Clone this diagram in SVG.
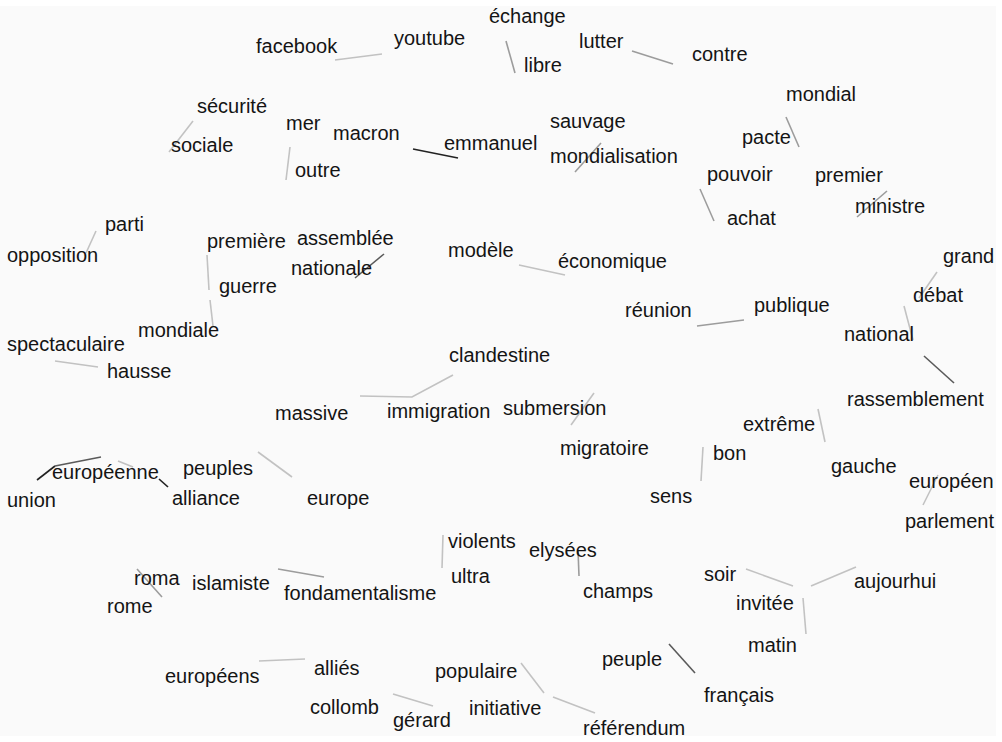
<svg xmlns="http://www.w3.org/2000/svg" width="1002" height="742" viewBox="0 0 1002 742">
<style>
text{font-family:"Liberation Sans",Arial,sans-serif;font-size:20px;fill:#141414}
line,polyline{stroke-width:1.6;fill:none;stroke-linecap:butt}
.l{stroke:#c2c2c2}.m{stroke:#9c9c9c}.d{stroke:#5a5a5a}.k{stroke:#222}
</style>
<rect width="1002" height="742" fill="#ffffff"/>
<rect x="0" y="6" width="996" height="730" fill="#fafafa"/>
<g id="connectors">
<line class="l" x1="335" y1="60" x2="382" y2="54"/>
<line class="m" x1="506" y1="41" x2="515" y2="73"/>
<line class="m" x1="632" y1="51" x2="673" y2="64"/>
<line class="l" x1="193" y1="121" x2="169" y2="152"/>
<line class="l" x1="290" y1="147" x2="286" y2="180"/>
<line class="k" x1="413" y1="149" x2="458" y2="158"/>
<line class="m" x1="601" y1="143" x2="575" y2="172"/>
<line class="m" x1="786" y1="117" x2="799" y2="147"/>
<line class="m" x1="700" y1="189" x2="714" y2="221"/>
<line class="m" x1="887" y1="191" x2="857" y2="217"/>
<line class="l" x1="96" y1="231" x2="86" y2="253"/>
<line class="l" x1="207" y1="255" x2="209" y2="290"/>
<line class="l" x1="210" y1="300" x2="213" y2="326"/>
<line class="d" x1="384" y1="254" x2="355" y2="278"/>
<line class="l" x1="519" y1="265" x2="565" y2="275"/>
<line class="m" x1="697" y1="326" x2="744" y2="320"/>
<line class="l" x1="937" y1="272" x2="919" y2="298"/>
<line class="l" x1="904" y1="306" x2="913" y2="340"/>
<line class="d" x1="924" y1="356" x2="954" y2="383"/>
<line class="l" x1="55" y1="361" x2="98" y2="367"/>
<polyline class="l" points="360,396 412,397 453,375"/>
<line class="l" x1="594" y1="393" x2="571" y2="425"/>
<line class="l" x1="818" y1="409" x2="825" y2="442"/>
<line class="l" x1="703" y1="447" x2="701" y2="481"/>
<line class="k" x1="37" y1="480" x2="55" y2="466"/>
<line class="d" x1="55" y1="466" x2="101" y2="457"/>
<line class="l" x1="118" y1="461" x2="133" y2="467"/>
<line class="k" x1="159" y1="479" x2="168" y2="487"/>
<line class="l" x1="258" y1="452" x2="292" y2="477"/>
<line class="l" x1="938" y1="475" x2="923" y2="505"/>
<line class="l" x1="443" y1="535" x2="442" y2="568"/>
<line class="m" x1="578" y1="550" x2="579" y2="576"/>
<line class="m" x1="137" y1="569" x2="162" y2="597"/>
<line class="m" x1="278" y1="569" x2="324" y2="577"/>
<line class="l" x1="259" y1="661" x2="305" y2="659"/>
<line class="l" x1="393" y1="694" x2="433" y2="706"/>
<line class="l" x1="521" y1="663" x2="544" y2="693"/>
<line class="l" x1="553" y1="697" x2="595" y2="713"/>
<line class="l" x1="746" y1="569" x2="793" y2="586"/>
<line class="l" x1="856" y1="567" x2="811" y2="586"/>
<line class="l" x1="803" y1="598" x2="806" y2="634"/>
<line class="d" x1="669" y1="644" x2="695" y2="673"/>
</g>
<g id="n-facebook"><text x="256" y="53">facebook</text></g>
<g id="n-youtube"><text x="394" y="45">youtube</text></g>
<g id="n-echange"><text x="489" y="23">échange</text></g>
<g id="n-libre"><text x="524" y="72">libre</text></g>
<g id="n-lutter"><text x="579" y="48">lutter</text></g>
<g id="n-contre"><text x="692" y="61">contre</text></g>
<g id="n-securite"><text x="197" y="113">sécurité</text></g>
<g id="n-sociale"><text x="171" y="152">sociale</text></g>
<g id="n-mer"><text x="286" y="130">mer</text></g>
<g id="n-outre"><text x="295" y="177">outre</text></g>
<g id="n-macron"><text x="333" y="140">macron</text></g>
<g id="n-emmanuel"><text x="444" y="150">emmanuel</text></g>
<g id="n-sauvage"><text x="550" y="128">sauvage</text></g>
<g id="n-mondialisation"><text x="550" y="163">mondialisation</text></g>
<g id="n-mondial"><text x="786" y="101">mondial</text></g>
<g id="n-pacte"><text x="742" y="144">pacte</text></g>
<g id="n-pouvoir"><text x="707" y="181">pouvoir</text></g>
<g id="n-achat"><text x="727" y="225">achat</text></g>
<g id="n-premier"><text x="815" y="182">premier</text></g>
<g id="n-ministre"><text x="855" y="213">ministre</text></g>
<g id="n-parti"><text x="105" y="231">parti</text></g>
<g id="n-opposition"><text x="7" y="262">opposition</text></g>
<g id="n-premiere"><text x="207" y="248">première</text></g>
<g id="n-guerre"><text x="219" y="293">guerre</text></g>
<g id="n-mondiale"><text x="138" y="337">mondiale</text></g>
<g id="n-assemblee"><text x="297" y="245">assemblée</text></g>
<g id="n-nationale"><text x="291" y="275">nationale</text></g>
<g id="n-modele"><text x="448" y="257">modèle</text></g>
<g id="n-economique"><text x="558" y="268">économique</text></g>
<g id="n-reunion"><text x="625" y="317">réunion</text></g>
<g id="n-publique"><text x="754" y="312">publique</text></g>
<g id="n-grand"><text x="943" y="263">grand</text></g>
<g id="n-debat"><text x="913" y="302">débat</text></g>
<g id="n-national"><text x="844" y="341">national</text></g>
<g id="n-rassemblement"><text x="847" y="406">rassemblement</text></g>
<g id="n-spectaculaire"><text x="7" y="351">spectaculaire</text></g>
<g id="n-hausse"><text x="107" y="378">hausse</text></g>
<g id="n-clandestine"><text x="449" y="362">clandestine</text></g>
<g id="n-massive"><text x="275" y="420">massive</text></g>
<g id="n-immigration"><text x="387" y="418">immigration</text></g>
<g id="n-submersion"><text x="503" y="415">submersion</text></g>
<g id="n-migratoire"><text x="560" y="455">migratoire</text></g>
<g id="n-extreme"><text x="743" y="431">extrême</text></g>
<g id="n-gauche"><text x="831" y="473">gauche</text></g>
<g id="n-bon"><text x="713" y="460">bon</text></g>
<g id="n-sens"><text x="650" y="503">sens</text></g>
<g id="n-europeen"><text x="909" y="488">européen</text></g>
<g id="n-parlement"><text x="905" y="528">parlement</text></g>
<g id="n-europeenne"><text x="52" y="479">européenne</text></g>
<g id="n-union"><text x="7" y="507">union</text></g>
<g id="n-peuples"><text x="183" y="475">peuples</text></g>
<g id="n-alliance"><text x="172" y="505">alliance</text></g>
<g id="n-europe"><text x="307" y="505">europe</text></g>
<g id="n-violents"><text x="448" y="548">violents</text></g>
<g id="n-ultra"><text x="451" y="583">ultra</text></g>
<g id="n-elysees"><text x="529" y="557">elysées</text></g>
<g id="n-champs"><text x="583" y="598">champs</text></g>
<g id="n-roma"><text x="134" y="585">roma</text></g>
<g id="n-rome"><text x="107" y="613">rome</text></g>
<g id="n-islamiste"><text x="192" y="590">islamiste</text></g>
<g id="n-fondamentalisme"><text x="284" y="600">fondamentalisme</text></g>
<g id="n-soir"><text x="704" y="581">soir</text></g>
<g id="n-aujourhui"><text x="854" y="588">aujourhui</text></g>
<g id="n-invitee"><text x="736" y="610">invitée</text></g>
<g id="n-matin"><text x="748" y="652">matin</text></g>
<g id="n-peuple"><text x="602" y="666">peuple</text></g>
<g id="n-francais"><text x="704" y="702">français</text></g>
<g id="n-europeens"><text x="165" y="683">européens</text></g>
<g id="n-allies"><text x="314" y="675">alliés</text></g>
<g id="n-collomb"><text x="310" y="714">collomb</text></g>
<g id="n-gerard"><text x="393" y="727">gérard</text></g>
<g id="n-populaire"><text x="435" y="678">populaire</text></g>
<g id="n-initiative"><text x="469" y="715">initiative</text></g>
<g id="n-referendum"><text x="583" y="735">référendum</text></g>
</svg>
